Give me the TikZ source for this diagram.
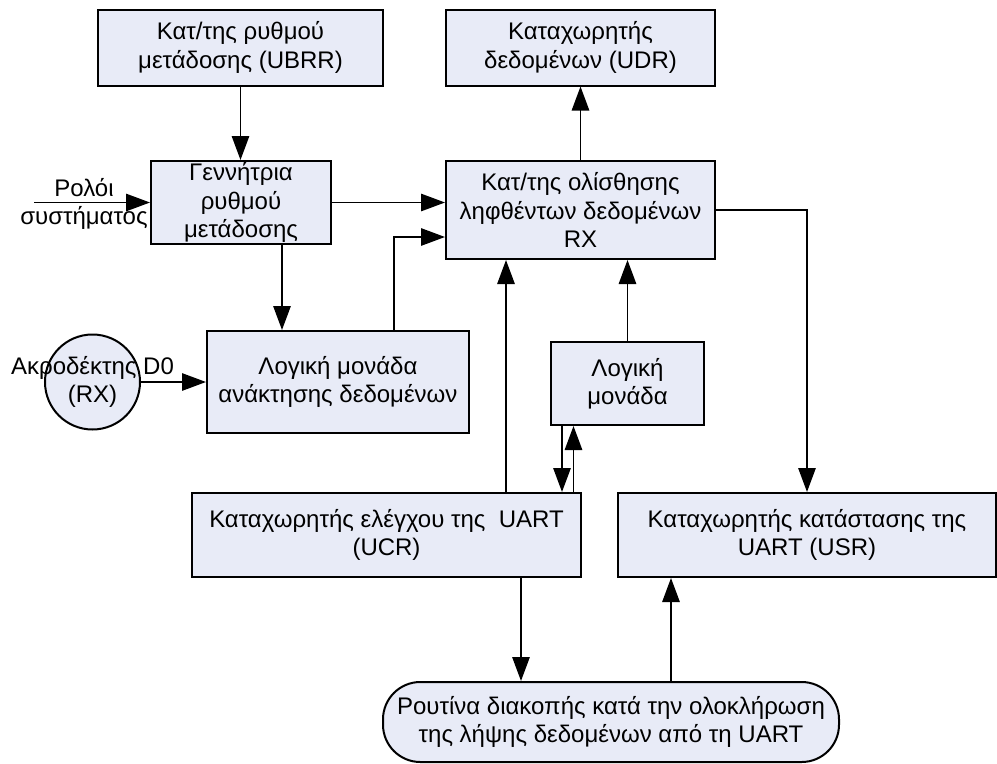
\documentclass[tikz,border=0pt]{standalone}
\usepackage{fontspec}
\setmainfont{Liberation Sans}
\usetikzlibrary{arrows.meta,calc}
\definecolor{boxfill}{RGB}{232,235,247}
\begin{document}
\begin{tikzpicture}[x=0.75pt,y=-0.75pt,
  font=\fontsize{18}{21.3}\selectfont,
  block/.style={draw=black, line width=1.5pt, fill=boxfill, align=center, inner sep=1pt},
  arr/.style={line width=1.4pt, -{Triangle[length=18pt,width=13pt]}}]
\useasboundingbox (0,0) rectangle (997,764);

% register and logic blocks (centres and sizes in pixel units)
\node[block, minimum width=213.75pt, minimum height=57pt] (ubrr) at (240.5,47.5)
  {Κατ/της ρυθμού\\μετάδοσης (UBRR)};
\node[block, minimum width=201.75pt, minimum height=57pt] (udr) at (580.5,47.5)
  {Καταχωρητής\\δεδομένων (UDR)};
\node[block, minimum width=135pt, minimum height=62.25pt] (gen) at (241,202.5)
  {Γεννήτρια\\ρυθμού\\μετάδοσης};
\node[block, minimum width=201.75pt, minimum height=73.5pt] (rx) at (580.5,210)
  {Κατ/της ολίσθησης\\ληφθέντων δεδομένων\\RX};
\node[block, minimum width=196.5pt, minimum height=76.5pt] (rec) at (338,382)
  {Λογική μονάδα\\ανάκτησης δεδομένων};
\node[block, minimum width=114.75pt, minimum height=62.25pt] (logic) at (627.5,383.5)
  {Λογική\\μονάδα};
\node[block, minimum width=291.75pt, minimum height=63pt] (ucr) at (386.5,535)
  {Καταχωρητής ελέγχου της\ \ UART\\(UCR)};
\node[block, minimum width=283.5pt, minimum height=63pt] (usr) at (807,535)
  {Καταχωρητής κατάστασης της\\UART (USR)};
\node[block, rounded corners=28pt, minimum width=342pt, minimum height=60pt] (rout) at (611,722)
  {Ρουτίνα διακοπής κατά την ολοκλήρωση\\της λήψης δεδομένων από τη UART};

% input pin
\node[circle, draw=black, line width=1.5pt, fill=boxfill, minimum size=71.25pt, inner sep=0pt] (pin) at (92.5,382) {};
\node[align=center] (pinlabel) at (pin) {Ακροδέκτης D0\\(RX)};

% system clock input
\coordinate (clk) at (34,202.5);
\node[align=center] (clklabel) at (84,204) {Ρολόι\\συστήματος};

% connectors
\draw[arr] (ubrr.south) -- (ubrr.south |- gen.north);
\draw[arr] (clk) -- (clk -| gen.west);
\draw[arr] (gen.east) -- (gen.east -| rx.west);
\coordinate (g1) at ($(gen.south)+(41,0)$);
\draw[arr] (g1) -- (g1 |- rec.north);
\coordinate (r1) at ($(rec.north)+(56,0)$);
\coordinate (r2) at ($(rx.west)+(0,27)$);
\draw[arr] (r1) |- (r2);
\draw[arr] (pin.east) -- (rec.west);
\draw[arr] (rx.north) -- (udr.south);
\draw[arr] (rx.east) -| (usr.north);
\coordinate (u1) at ($(rx.south)+(-74.5,0)$);
\draw[arr] (u1 |- ucr.north) -- (u1);
\draw[arr] (logic.north) -- (logic.north |- rx.south);
\coordinate (l1) at ($(logic.south)+(-65.5,0)$);
\draw[arr] (l1) -- (l1 |- ucr.north);
\coordinate (l2) at ($(logic.south)+(-54,0)$);
\draw[arr] (l2 |- ucr.north) -- (l2);
\coordinate (c1) at ($(ucr.south)+(134.5,0)$);
\draw[arr] (c1) -- (c1 |- rout.north);
\coordinate (s1) at ($(rout.north)+(60,0)$);
\draw[arr] (s1) -- (s1 |- usr.south);
\end{tikzpicture}
\end{document}
